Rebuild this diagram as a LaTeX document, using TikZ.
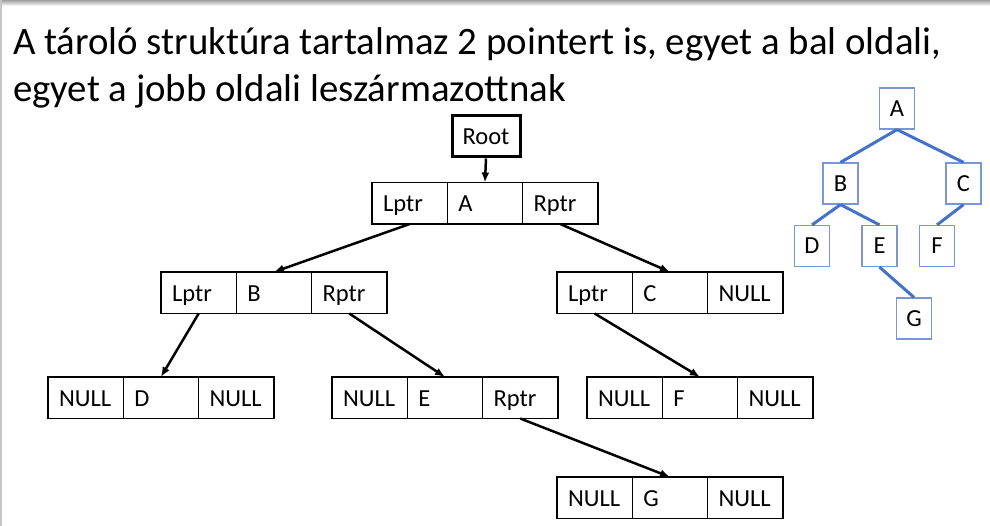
\documentclass[tikz,border=0pt]{standalone}
\usepackage{fontspec}
\setmainfont{Carlito}
\usetikzlibrary{arrows.meta}
\definecolor{treebox}{RGB}{122,150,212}
\definecolor{treeedge}{RGB}{68,114,196}
\tikzset{
  cell/.style={draw=black, line width=1.4pt, minimum width=75.3pt, minimum height=41.5pt,
    text width=53.3pt, text height=17.5pt, text depth=0.5pt, align=left,
    inner xsep=11pt, inner ysep=0pt, outer sep=0pt,
    anchor=north west, font=\fontsize{24.5}{28}\selectfont},
  ptr/.style={line width=2.5pt, -{Latex[length=10pt,width=8pt]}},
  rootbox/.style={draw=black, line width=3pt, minimum width=68pt, minimum height=41pt,
    inner sep=0pt, font=\fontsize{24.5}{28}\selectfont},
  tnode/.style={draw=treebox, line width=1.2pt, minimum width=35pt, minimum height=41pt,
    inner sep=0pt, font=\fontsize{24.5}{28}\selectfont},
  tedge/.style={draw=treeedge, line width=3pt},
  titletext/.style={anchor=base west, inner sep=0pt, font=\fontsize{38.8}{45}\selectfont},
}
\newcommand\recordbox[6]{%
  \node[cell] (#1-l) at (#2,#3) {#4};
  \node[cell] (#1-m) at (#1-l.north east) {#5};
  \node[cell] (#1-r) at (#1-m.north east) {#6};
}
\begin{document}
\begin{tikzpicture}[x=1pt,y=-1pt]
\useasboundingbox (0,0) rectangle (990,526);
\fill[white] (0,0) rectangle (990,526);
% frame decoration
\shade[top color=gray!75, bottom color=white] (0,0) rectangle (990,6);
\fill[gray!45] (0,0) rectangle (1.5,526);
% title
\node[titletext] (title1) at (13,54.5) {A tároló struktúra tartalmaz 2 pointert is, egyet a bal oldali,};
\node[titletext] (title2) at (13,101.5) {egyet a jobb oldali leszármazottnak};
% root
\node[rootbox] (root) at (486,136.5) {Root};
% records
\recordbox{A}{372}{182.5}{Lptr}{A}{Rptr}
\recordbox{B}{161}{272}{Lptr}{B}{Rptr}
\recordbox{C}{557}{272}{Lptr}{C}{NULL}
\recordbox{D}{48}{377}{NULL}{D}{NULL}
\recordbox{E}{332}{377}{NULL}{E}{Rptr}
\recordbox{F}{587}{377}{NULL}{F}{NULL}
\recordbox{G}{557}{477}{NULL}{G}{NULL}
% pointers
\draw[ptr] (root.south) -- (A-m.north);
\draw[ptr] (A-l.south) -- (B-m.north);
\draw[ptr] (A-r.south) -- (C-m.north);
\draw[ptr] (B-l.south) -- (D-m.north);
\draw[ptr] (B-r.south) -- (E-m.north);
\draw[ptr] (C-l.south) -- (F-m.north);
\draw[ptr] (E-r.south) -- (G-m.north);
% small tree
\node[tnode] (tA) at (897,108.5) {A};
\node[tnode] (tB) at (840.5,183.5) {B};
\node[tnode] (tC) at (963.5,183.5) {C};
\node[tnode] (tD) at (812,246) {D};
\node[tnode] (tE) at (879.5,246) {E};
\node[tnode] (tF) at (937,246) {F};
\node[tnode] (tG) at (914,318.5) {G};
\draw[tedge] (tA.south) -- (tB.north);
\draw[tedge] (tA.south) -- (tC.north);
\draw[tedge] (tB.south) -- (tD.north);
\draw[tedge] (tB.south) -- (tE.north);
\draw[tedge] (tC.south) -- (tF.north);
\draw[tedge] (tE.south) -- (tG.north);
\end{tikzpicture}
\end{document}
